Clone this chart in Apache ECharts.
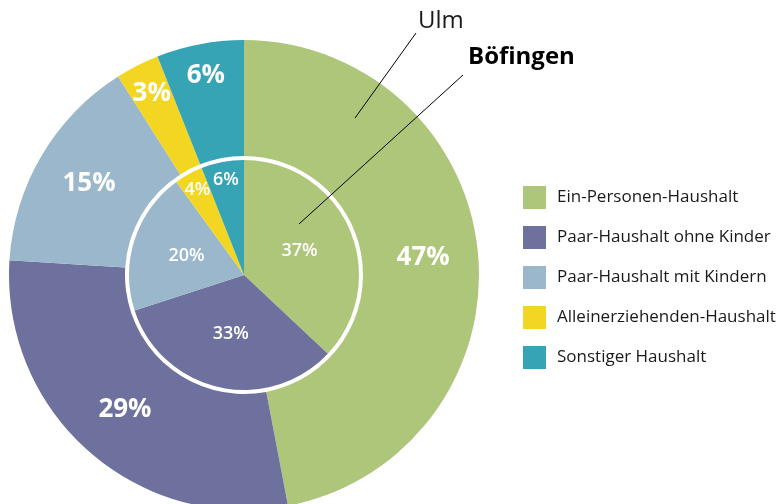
<!DOCTYPE html>
<html>
<head>
<meta charset="utf-8">
<script src="https://cdn.jsdelivr.net/npm/echarts@6/dist/echarts.min.js"></script>
<style>
  html, body { margin: 0; padding: 0; background: #fff; }
  #chart { width: 781px; height: 504px; }
</style>
</head>
<body>
<div id="chart"></div>
<script>
// Haushaltstypen, Anteile in %
let categories = ['Ein-Personen-Haushalt', 'Paar-Haushalt ohne Kinder', 'Paar-Haushalt mit Kindern', 'Alleinerziehenden-Haushalt', 'Sonstiger Haushalt'];
let ulm        = [47, 29, 15, 3, 6];
let boefingen  = [37, 33, 20, 4, 6];
let colors     = ['#aec679', '#6e719d', '#9bb7cb', '#f2d622', '#36a4b4'];

let font   = '"Open Sans", "Noto Sans", sans-serif';
let center = [244, 275];

function toData(values){
    let data = [];
    for(let i = 0; i < values.length; i++){
        data.push({ name: categories[i], value: values[i] });
    }
    return data;
}

// push labels of narrow slices further out so they sit in the wide part of the wedge
function pushOut(factor){
    return function(params){
        let r = params.labelRect;
        let cx = r.x + r.width / 2;
        let cy = r.y + r.height / 2;
        let dx = cx - center[0];
        let dy = cy - center[1];
        let value = params.seriesIndex === 0 ? ulm[params.dataIndex] : boefingen[params.dataIndex];
        if(value >= 10){
            return {};
        }
        return { x: center[0] + dx * factor, y: center[1] + dy * factor, align: 'center', verticalAlign: 'middle' };
    }
}

let chart = echarts.init(document.getElementById('chart'));

let option = {
    animation: false,
    color: colors,
    legend: {
        orient: 'vertical',
        left: 523,
        top: 186,
        padding: 0,
        itemWidth: 23,
        itemHeight: 23,
        itemGap: 17,
        icon: 'rect',
        selectedMode: false,
        data: categories,
        textStyle: { fontFamily: font, fontSize: 17, color: '#1a1a1a', padding: [0, 0, 0, 6] }
    },
    series: [
        {
            name: 'Ulm',
            type: 'pie',
            center: center,
            radius: [119, 235],
            startAngle: 90,
            clockwise: true,
            silent: true,
            label: {
                position: 'inside',
                formatter: '{c}%',
                color: '#fff',
                fontFamily: font,
                fontWeight: 'bold',
                fontSize: 26
            },
            labelLine: { show: false },
            labelLayout: pushOut(1.13),
            data: toData(ulm)
        },
        {
            name: 'Böfingen',
            type: 'pie',
            center: center,
            radius: [0, 115],
            startAngle: 90,
            clockwise: true,
            silent: true,
            label: {
                position: 'inside',
                formatter: '{c}%',
                color: '#fff',
                fontFamily: font,
                fontWeight: 600,
                fontSize: 18
            },
            labelLine: { show: false },
            labelLayout: pushOut(1.6),
            data: toData(boefingen)
        }
    ],
    graphic: [
        // Beschriftung der Ringe
        { type: 'text', z: 100, left: 418, top: 9, style: { text: 'Ulm', font: '24px ' + font, fill: '#1a1a1a' } },
        { type: 'text', z: 100, left: 468, top: 45, style: { text: 'Böfingen', font: 'bold 24px ' + font, fill: '#000' } },
        { type: 'line', z: 100, shape: { x1: 416, y1: 33, x2: 355, y2: 118 }, style: { stroke: '#000', lineWidth: 1 } },
        { type: 'line', z: 100, shape: { x1: 463, y1: 75, x2: 299, y2: 224 }, style: { stroke: '#000', lineWidth: 1 } }
    ]
};

chart.setOption(option);
</script>
</body>
</html>
